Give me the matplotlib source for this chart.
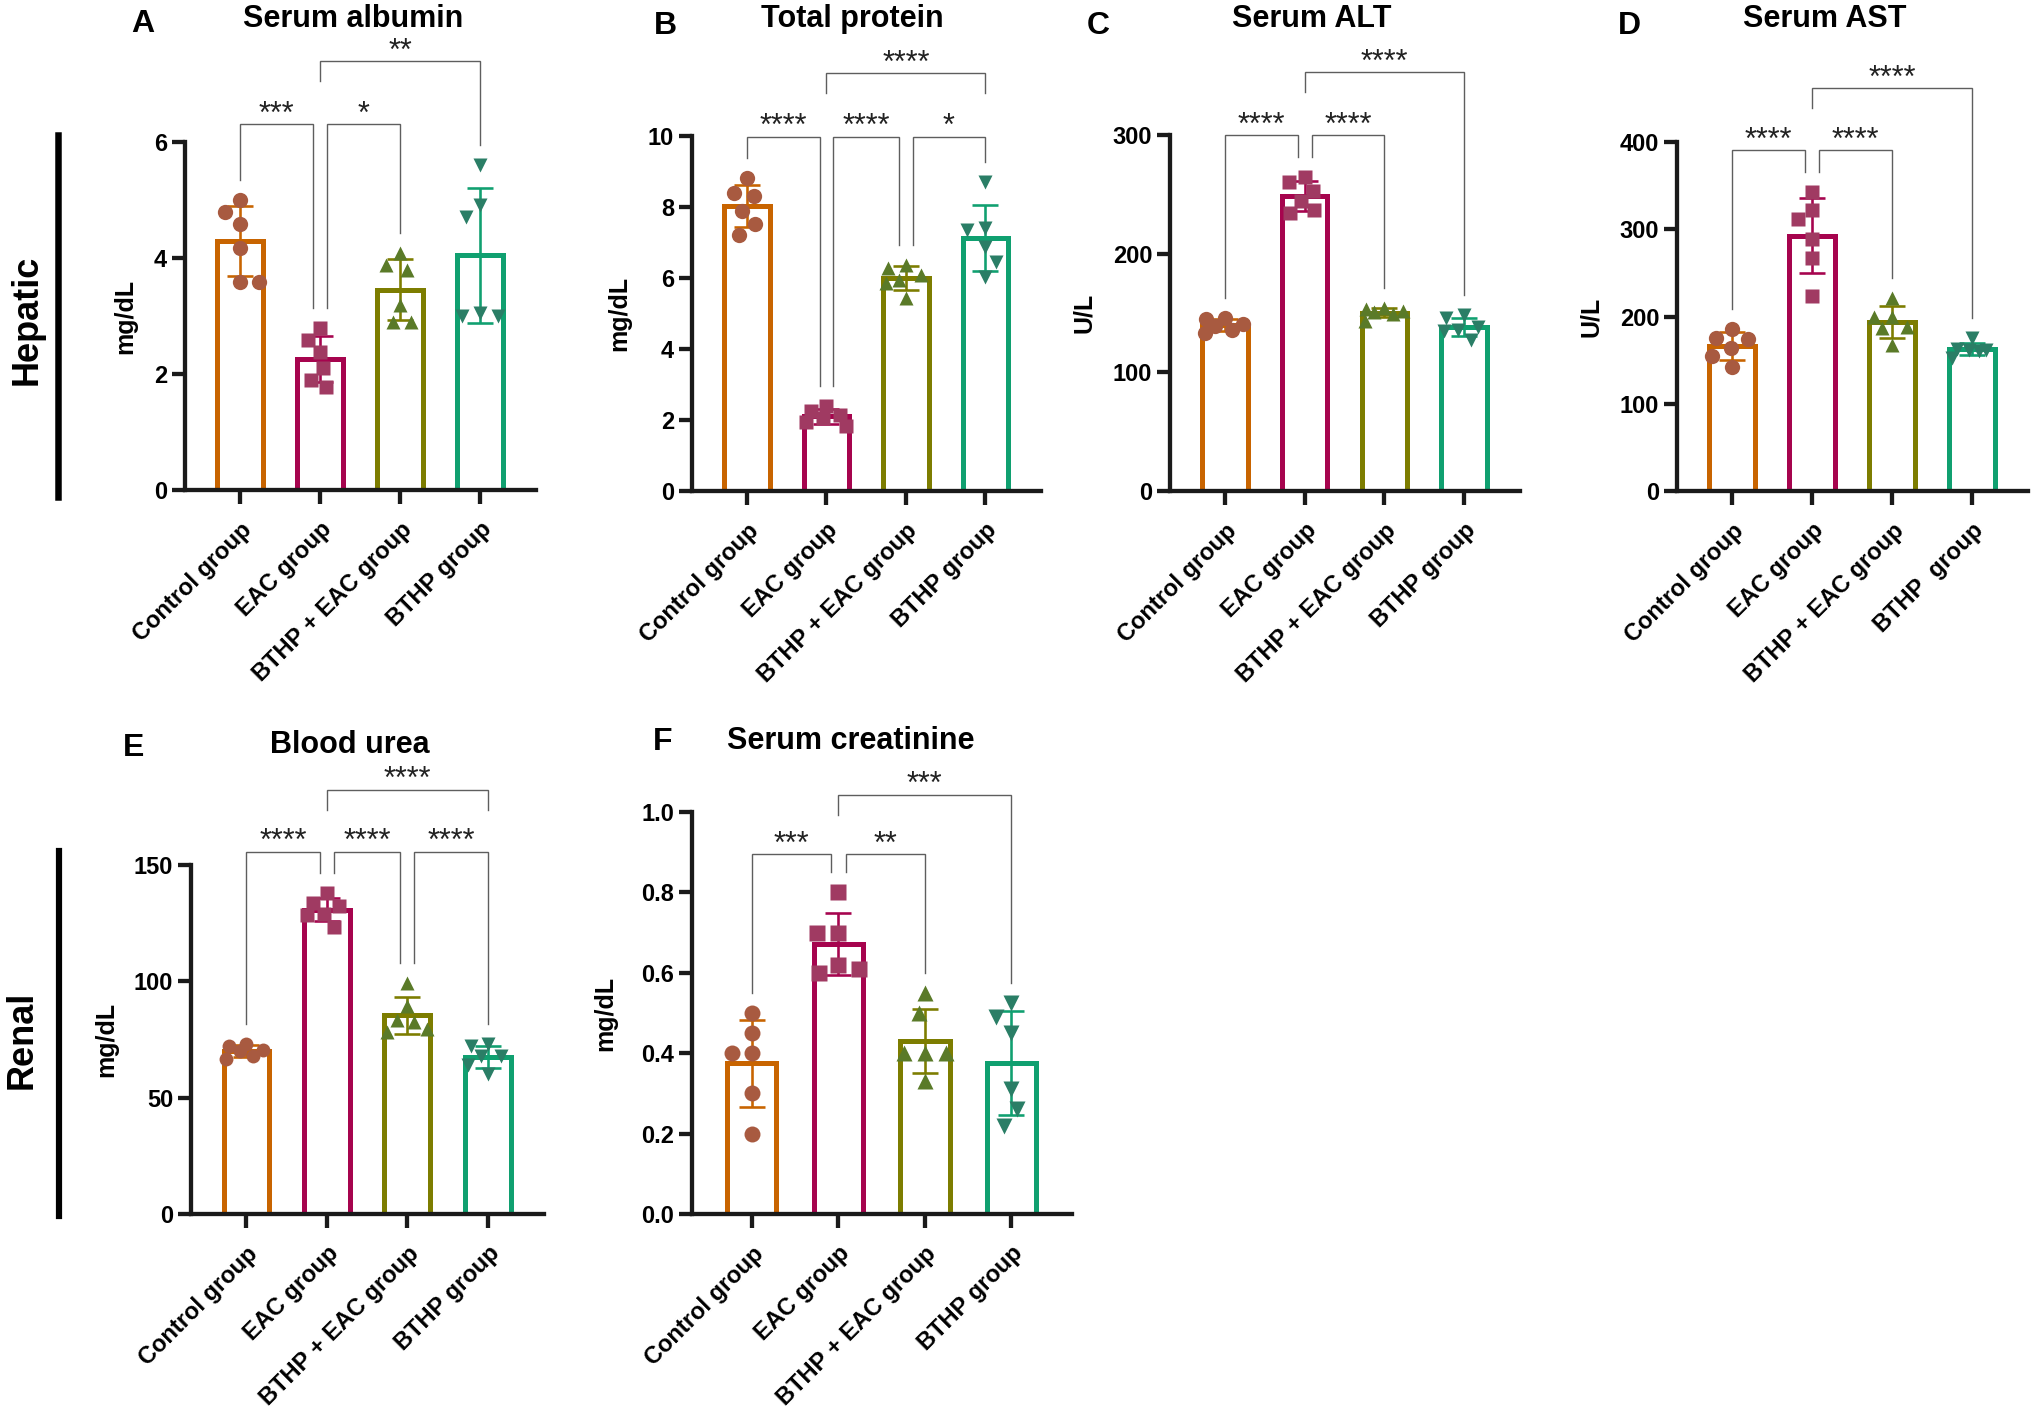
import numpy as np
import matplotlib
matplotlib.use("Agg")
import matplotlib.pyplot as plt
from matplotlib.lines import Line2D

# ---------------- data ----------------
groups = ["Control group", "EAC group", "BTHP + EAC group", "BTHP group"]
groups_d = ["Control group", "EAC group", "BTHP + EAC group", "BTHP  group"]

albumin_ctrl = [5.00, 4.80, 4.59, 4.18, 3.59, 3.59]
albumin_eac = [2.79, 2.59, 2.38, 2.10, 1.90, 1.78]
albumin_bthp_eac = [4.08, 3.88, 3.79, 3.19, 2.90, 2.90]
albumin_bthp = [5.60, 4.91, 4.71, 3.05, 3.00, 3.00]

protein_ctrl = [8.81, 8.40, 8.31, 7.90, 7.52, 7.21]
protein_eac = [2.40, 2.25, 2.15, 2.05, 1.95, 1.82]
protein_bthp_eac = [6.37, 6.27, 6.08, 5.85, 5.94, 5.43]
protein_bthp = [8.71, 7.40, 7.35, 6.88, 6.46, 6.04]

alt_ctrl = [146, 145, 141, 139, 136, 133]
alt_eac = [264.9, 260.7, 253.1, 244.4, 236.8, 234.0]
alt_bthp_eac = [154, 153, 152, 151, 149, 143]
alt_bthp = [146, 148, 138, 136, 135, 127]

ast_ctrl = [186, 175, 174, 164, 155, 142]
ast_eac = [343, 322, 311.7, 288.5, 267.4, 223.5]
ast_bthp_eac = [221.6, 199.8, 199.8, 188.3, 186.5, 167.3]
ast_bthp = [175, 163, 162, 162, 161, 153]

urea_ctrl = [72.9, 72.2, 70.7, 70.0, 67.7, 66.7]
urea_eac = [138.0, 133.6, 132.5, 129.1, 128.4, 123.2]
urea_bthp_eac = [99.3, 89.5, 83.5, 82.5, 78.1, 79.5]
urea_bthp = [73, 72, 68, 68, 64, 60]

creat_ctrl = [0.50, 0.45, 0.40, 0.40, 0.30, 0.20]
creat_eac = [0.80, 0.70, 0.70, 0.62, 0.60, 0.61]
creat_bthp_eac = [0.55, 0.50, 0.40, 0.40, 0.40, 0.33]
creat_bthp = [0.525, 0.49, 0.45, 0.31, 0.26, 0.22]

# significance comparisons: (group i, group j, stars, bracket level)
sig_albumin = [(0, 1, "***", 1), (1, 2, "*", 1), (1, 3, "**", 2)]
sig_protein = [(0, 1, "****", 1), (1, 2, "****", 1), (2, 3, "*", 1), (1, 3, "****", 2)]
sig_alt = [(0, 1, "****", 1), (1, 2, "****", 1), (1, 3, "****", 2)]
sig_ast = [(0, 1, "****", 1), (1, 2, "****", 1), (1, 3, "****", 2)]
sig_urea = [(0, 1, "****", 1), (1, 2, "****", 1), (2, 3, "****", 1), (1, 3, "****", 2)]
sig_creat = [(0, 1, "***", 1), (1, 2, "**", 1), (1, 3, "***", 2)]

# ---------------- style ----------------
W, H = 2032, 1414
FONT = "Liberation Sans"
plt.rcParams["font.family"] = [FONT, "DejaVu Sans"]
plt.rcParams["font.weight"] = "bold"

bar_colors = ["#C86400", "#A6044E", "#7D7D00", "#10A070"]
point_colors = ["#A85A40", "#A03A62", "#5A7A28", "#2A7E66"]
markers = ["o", "s", "^", "v"]
XLIM = (-0.69, 3.70)


def pt(px):
    return px * 72.0 / 100.0


def swarm(ypx, d, maxoff):
    """Simple beeswarm in pixel space, offsets limited to +-maxoff."""
    order = np.argsort(-np.asarray(ypx), kind="stable")
    placed = []
    out = np.zeros(len(ypx))
    grid = list(np.linspace(-maxoff, maxoff, 13))
    for i in order:
        y = ypx[i]
        cands = [0.0] + grid
        for (qx, qy) in placed:
            dy = y - qy
            if abs(dy) < d:
                dx = np.sqrt(d * d - dy * dy)
                cands += [qx - dx, qx + dx]
        cands = [c for c in cands if abs(c) <= maxoff + 1e-9]

        def mind(c):
            return min([np.hypot(c - qx, y - qy) for qx, qy in placed], default=1e9)

        nleft = sum(1 for qx, _ in placed if qx < -1e-6)
        nright = sum(1 for qx, _ in placed if qx > 1e-6)
        pref = -1 if nleft <= nright else 1
        valid = [c for c in cands if mind(c) >= d - 1e-6]
        if valid:
            valid.sort(key=lambda c: (round(abs(c), 3), 0 if np.sign(c) == pref else 1))
            c = valid[0]
        else:
            cands.sort(key=lambda c: (-round(mind(c), 3), round(abs(c), 3),
                                      0 if np.sign(c) == pref else 1))
            c = cands[0]
        placed.append((c, y))
        out[i] = c
    return out


fig = plt.figure(figsize=(W / 100, H / 100), dpi=100)


def fig_text(x, y, s, **kw):
    fig.text(x / W, 1 - y / H, s, **kw)


def draw_panel(box, series, ymax, yticks, yfmt, ylabel, labels, sigs, levels,
               msizes, labelpad):
    x0, x1, yt, yb = box
    ax = fig.add_axes([x0 / W, 1 - yb / H, (x1 - x0) / W, (yb - yt) / H])
    ax.set_xlim(*XLIM)
    ax.set_ylim(0, ymax)
    xppu = (x1 - x0) / (XLIM[1] - XLIM[0])
    yppu = (yb - yt) / ymax
    pos = np.arange(len(series))
    means = [np.mean(v) for v in series]
    sds = [np.std(v, ddof=1) for v in series]

    ax.bar(pos, means, width=0.57, color="white", edgecolor=bar_colors,
           linewidth=pt(5), zorder=2)
    for k in range(len(series)):
        ax.errorbar(pos[k], means[k], yerr=sds[k], fmt="none", ecolor=bar_colors[k],
                    elinewidth=pt(2.6), capsize=9.5, capthick=pt(2.6), zorder=3)
        vals = np.asarray(series[k], dtype=float)
        dpx = msizes[k] * 100 / 72 * 1.25
        offs = swarm(vals * yppu, dpx, 0.25 * xppu) / xppu
        ax.plot(pos[k] + offs, vals, ls="none", marker=markers[k], ms=msizes[k],
                mfc=point_colors[k], mec="none", zorder=4, clip_on=False)

    for s in ["top", "right"]:
        ax.spines[s].set_visible(False)
    for s in ["left", "bottom"]:
        ax.spines[s].set_linewidth(pt(4.3))
        ax.spines[s].set_color("#1a1a1a")
        ax.spines[s].set_zorder(5)
    ax.set_yticks(yticks)
    ax.set_yticklabels([yfmt.format(v) for v in yticks], fontsize=17,
                       fontweight="bold", fontfamily=FONT)
    ax.set_xticks(pos)
    ax.set_xticklabels(labels, rotation=45, ha="right", va="top",
                       rotation_mode="anchor", fontsize=17, fontweight="bold",
                       fontfamily=FONT)
    ax.tick_params(axis="y", length=pt(13), width=pt(4.3), pad=3.5, color="#1a1a1a")
    ax.tick_params(axis="x", length=pt(14), width=pt(4.3), pad=10, color="#1a1a1a")
    ax.set_ylabel(ylabel, fontsize=18, fontweight="bold", fontfamily=FONT,
                  labelpad=labelpad)

    # significance brackets
    gap = 20 / yppu
    dx = 0.085
    lvl1 = [s for s in sigs if s[3] == 1]
    tops = [max(max(v), means[k] + sds[k]) for k, v in enumerate(series)]
    for (i, j, stars, lv) in sigs:
        yline = levels[lv - 1]
        xl, xr = float(i), float(j)
        if lv == 1:
            if any(o[1] == i for o in lvl1 if (o[0], o[1]) != (i, j)):
                xl += dx
            if any(o[0] == j for o in lvl1 if (o[0], o[1]) != (i, j)):
                xr -= dx
            yl = tops[i] + gap
            yr = tops[j] + gap
        else:
            cov_l = any(o[0] <= i <= o[1] for o in lvl1)
            cov_r = any(o[0] <= j <= o[1] for o in lvl1)
            yl = yline - gap if cov_l else tops[i] + gap
            yr = yline - gap if cov_r else tops[j] + gap
        ax.plot([xl, xl, xr, xr], [yl, yline, yline, yr], color="#5e5e5e",
                lw=1.0, clip_on=False, zorder=1, solid_joinstyle="miter")
        ax.annotate(stars, xy=((xl + xr) / 2, yline), xytext=(0, 1),
                    textcoords="offset points", ha="center", va="baseline",
                    fontsize=22, fontweight="normal", fontfamily=FONT,
                    color="#222222", annotation_clip=False)
    return ax


ms_top = [11, 9.5, 10.5, 10.5]
ms_e = [10, 10, 10, 10]
ms_f = [11.5, 12, 12, 12]

draw_panel((185, 536, 142, 490),
           [albumin_ctrl, albumin_eac, albumin_bthp_eac, albumin_bthp],
           6, [0, 2, 4, 6], "{:g}", "mg/dL", groups, sig_albumin, [6.31, 7.40],
           ms_top, 12)
draw_panel((692, 1041, 136, 491),
           [protein_ctrl, protein_eac, protein_bthp_eac, protein_bthp],
           10, [0, 2, 4, 6, 8, 10], "{:g}", "mg/dL", groups, sig_protein,
           [9.98, 11.78], ms_top, 12)
draw_panel((1170, 1520, 135, 491),
           [alt_ctrl, alt_eac, alt_bthp_eac, alt_bthp],
           300, [0, 100, 200, 300], "{:g}", "U/L", groups, sig_alt, [300, 353],
           ms_top, 12)
draw_panel((1677, 2028, 142, 491),
           [ast_ctrl, ast_eac, ast_bthp_eac, ast_bthp],
           400, [0, 100, 200, 300, 400], "{:g}", "U/L", groups_d, sig_ast,
           [391, 462], ms_top, 12)
draw_panel((191, 544, 865, 1214),
           [urea_ctrl, urea_eac, urea_bthp_eac, urea_bthp],
           150, [0, 50, 100, 150], "{:g}", "mg/dL", groups, sig_urea,
           [155.8, 182.4], ms_e, 11)
draw_panel((692, 1072, 812, 1214),
           [creat_ctrl, creat_eac, creat_bthp_eac, creat_bthp],
           1.0, [0.0, 0.2, 0.4, 0.6, 0.8, 1.0], "{:.1f}", "mg/dL", groups,
           sig_creat, [0.895, 1.043], ms_f, 17)

# panel letters and titles (baseline positions)
letters = [("A", 143, 32.5), ("B", 665, 33.5), ("C", 1098, 33.5), ("D", 1629, 33.5),
           ("E", 134, 755.5), ("F", 663, 749.5)]
titles = [("Serum albumin", 353, 27), ("Total protein", 852, 27),
          ("Serum ALT", 1312, 27), ("Serum AST", 1825, 27),
          ("Blood urea", 350, 753), ("Serum creatinine", 851, 749)]
for s, x, y in letters:
    fig_text(x, y, s, ha="center", va="baseline", fontsize=23, fontweight="bold",
             fontfamily=FONT)
for s, x, y in titles:
    fig_text(x, y, s, ha="center", va="baseline", fontsize=22, fontweight="bold",
             fontfamily=FONT)

# row labels with vertical bars
fig.text(37 / W, 1 - 320 / H, "Hepatic", rotation=90, rotation_mode="anchor",
         ha="center", va="baseline", fontsize=26, fontweight="bold", fontfamily=FONT)
fig.text(32 / W, 1 - 1040 / H, "Renal", rotation=90, rotation_mode="anchor",
         ha="center", va="baseline", fontsize=26, fontweight="bold", fontfamily=FONT)
fig.add_artist(Line2D([58 / W, 58 / W], [1 - 135 / H, 1 - 497 / H], lw=pt(6.5),
                      color="black", transform=fig.transFigure))
fig.add_artist(Line2D([58.5 / W, 58.5 / W], [1 - 851 / H, 1 - 1216 / H], lw=pt(6.2),
                      color="black", transform=fig.transFigure))

fig.savefig("out.png", dpi=100, facecolor="white")
